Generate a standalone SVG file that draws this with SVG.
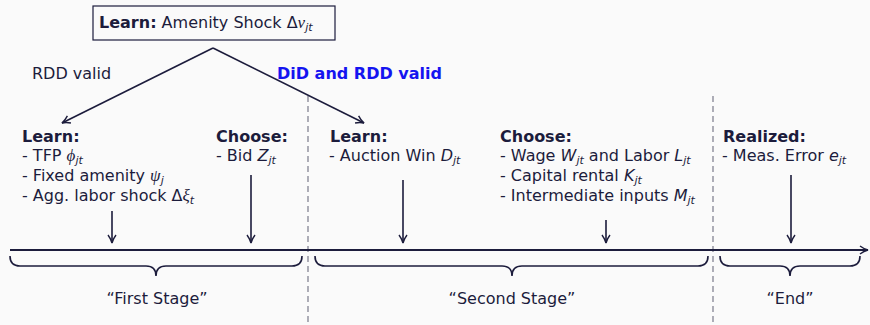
<svg xmlns="http://www.w3.org/2000/svg" width="870" height="325" viewBox="0 0 870 325">
<style>
text{font-family:"DejaVu Sans","Liberation Sans",sans-serif;font-size:16px;fill:#1c1c3c}
.b{font-weight:bold}
.m{font-style:italic}
.g{font-family:"Liberation Serif","Times New Roman",serif;font-style:italic;font-size:17px}
.s{font-size:11px;font-style:italic}
.blue{fill:#1414f0;font-weight:bold}
.ln{stroke:#1c1c3c;fill:none;stroke-width:1.6}
.dash{stroke:#7a7a8a;stroke-width:1.2;stroke-dasharray:6,4;fill:none}
</style>
<defs>
<marker id="ah" viewBox="0 0 10 10" refX="9" refY="5" markerWidth="10" markerHeight="10" markerUnits="userSpaceOnUse" orient="auto">
<path d="M1,1 Q5,4 9,5 Q5,6 1,9" fill="none" stroke="#1c1c3c" stroke-width="1.4"/>
</marker>
</defs>
<rect width="870" height="325" fill="#fafafa"/>
<g id="dividers">
<line class="dash" x1="308" y1="96" x2="308" y2="325"/>
<line class="dash" x1="713" y1="96" x2="713" y2="325"/>
</g>
<g id="shock">
<rect x="93" y="6" width="242" height="34" fill="#fafafa" stroke="#1c1c3c" stroke-width="1.2"/>
<text x="99" y="28"><tspan class="b">Learn:</tspan> Amenity Shock Δ<tspan class="g">ν</tspan><tspan class="s" dy="3">jt</tspan></text>
</g>
<g id="labels">
<text x="32" y="79">RDD valid</text>
<text x="277" y="79" class="blue">DiD and RDD valid</text>
</g>
<g id="learn1">
<text x="22" y="142" class="b">Learn:</text>
<text x="22" y="161">- TFP <tspan class="g">ϕ</tspan><tspan class="s" dy="3">jt</tspan></text>
<text x="22" y="181">- Fixed amenity <tspan class="g">ψ</tspan><tspan class="s" dy="3">j</tspan></text>
<text x="22" y="201">- Agg. labor shock Δ<tspan class="g">ξ</tspan><tspan class="s" dy="3">t</tspan></text>
</g>
<g id="choose1">
<text x="216" y="142" class="b">Choose:</text>
<text x="216" y="161">- Bid <tspan class="m">Z</tspan><tspan class="s" dy="3">jt</tspan></text>
</g>
<g id="learn2">
<text x="330" y="142" class="b">Learn:</text>
<text x="329" y="161">- Auction Win <tspan class="m">D</tspan><tspan class="s" dy="3">jt</tspan></text>
</g>
<g id="choose2">
<text x="500" y="142" class="b">Choose:</text>
<text x="500" y="161">- Wage <tspan class="m">W</tspan><tspan class="s" dy="3">jt</tspan><tspan dy="-3"> and Labor </tspan><tspan class="m">L</tspan><tspan class="s" dy="3">jt</tspan></text>
<text x="500" y="181">- Capital rental <tspan class="m">K</tspan><tspan class="s" dy="3">jt</tspan></text>
<text x="500" y="201">- Intermediate inputs <tspan class="m">M</tspan><tspan class="s" dy="3">jt</tspan></text>
</g>
<g id="realized">
<text x="723" y="142" class="b">Realized:</text>
<text x="722" y="161">- Meas. Error <tspan class="m">e</tspan><tspan class="s" dy="3">jt</tspan></text>
</g>
<g id="stages">
<text x="157" y="304" text-anchor="middle">“First Stage”</text>
<text x="512" y="304" text-anchor="middle">“Second Stage”</text>
<text x="790" y="304" text-anchor="middle">“End”</text>
</g>
<g id="connectors">
<path class="ln" d="M213,48 L62,123" marker-end="url(#ah)"/>
<path class="ln" d="M213,48 L364,123" marker-end="url(#ah)"/>
<line class="ln" x1="112" y1="211" x2="112" y2="243" marker-end="url(#ah)"/>
<line class="ln" x1="251" y1="175" x2="251" y2="243" marker-end="url(#ah)"/>
<line class="ln" x1="403" y1="180" x2="403" y2="243" marker-end="url(#ah)"/>
<line class="ln" x1="606" y1="220" x2="606" y2="243" marker-end="url(#ah)"/>
<line class="ln" x1="791" y1="175" x2="791" y2="243" marker-end="url(#ah)"/>
<line x1="10" y1="250" x2="868" y2="250" stroke="#1c1c3c" stroke-width="2" marker-end="url(#ah)"/>
<path class="ln" d="M10,256 Q10,266 20,266 L146,266 Q156,266 156,276 Q156,266 166,266 L292,266 Q302,266 302,256"/>
<path class="ln" d="M315,256 Q315,266 325,266 L502,266 Q512,266 512,276 Q512,266 522,266 L698,266 Q708,266 708,256"/>
<path class="ln" d="M720,256 Q720,266 730,266 L780,266 Q790,266 790,276 Q790,266 800,266 L850,266 Q860,266 860,256"/>
</g>
</svg>
